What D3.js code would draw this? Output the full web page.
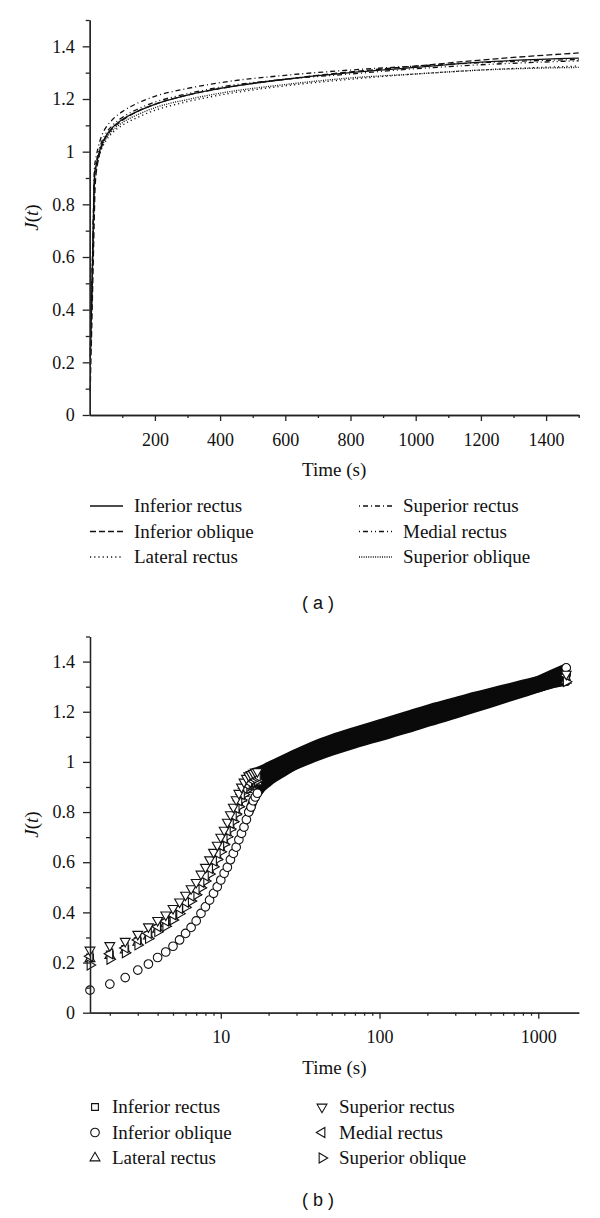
<!DOCTYPE html>
<html>
<head>
<meta charset="utf-8">
<script src="https://cdn.jsdelivr.net/npm/d3@7"></script>
<style>
  body { margin: 0; background: #fff; }
  svg text { font-family: "Liberation Serif", "Times New Roman", serif; fill: #111; }
  .axis path, .axis line { stroke: #222; stroke-width: 1.3; }
  .panel-tag { font-family: "Liberation Sans", Arial, sans-serif !important; }
</style>
</head>
<body>
<div id="chart"></div>
<script>
// muscle names, same order in both legends
const muscles = ["Inferior rectus", "Inferior oblique", "Lateral rectus",
                 "Superior rectus", "Medial rectus", "Superior oblique"];

// sample times (s)
const times = [1.5, 2, 2.5, 3, 3.5, 4, 4.5, 5, 5.5, 6, 6.5, 7, 7.5, 8, 8.5, 9, 9.5, 10,
               10.5, 11, 11.5, 12, 12.5, 13, 13.5, 14, 14.5, 15, 15.5, 16, 16.5, 17, 17.5, 18,
               20, 25, 30, 40, 50, 70, 100, 150, 200, 300, 400, 600, 800, 1000, 1200, 1500];

// creep compliance J(t)
const inferiorRectus = [.22, .232, .254, .285, .31, .337, .36, .385, .41, .435, .46, .485, .513, .54, .568, .597, .627, .657,
  .687, .717, .747, .777, .807, .837, .862, .885, .9, .912, .92, .925, .929, .932, .935, .937,
  .95, .978, 1.002, 1.037, 1.06, 1.092, 1.122, 1.155, 1.18, 1.215, 1.24, 1.275, 1.30, 1.32, 1.34, 1.355];
const inferiorOblique = [.09, .114, .14, .17, .194, .22, .242, .265, .29, .316, .34, .366, .396, .422, .449, .476, .502, .529,
  .556, .58, .61, .635, .66, .69, .715, .74, .77, .80, .82, .845, .86, .875, .885, .895,
  .92, .96, .99, 1.03, 1.055, 1.088, 1.118, 1.155, 1.18, 1.215, 1.24, 1.275, 1.303, 1.325, 1.348, 1.375];
const lateralRectus = [.215, .228, .25, .28, .305, .332, .355, .38, .405, .43, .455, .48, .508, .535, .563, .592, .62, .65,
  .68, .71, .74, .77, .80, .83, .855, .875, .89, .90, .908, .913, .917, .92, .923, .925,
  .938, .965, .988, 1.02, 1.042, 1.072, 1.10, 1.132, 1.157, 1.19, 1.215, 1.25, 1.275, 1.295, 1.31, 1.325];
const superiorRectus = [.25, .268, .285, .313, .343, .368, .39, .416, .442, .469, .495, .52, .553, .58, .61, .64, .668, .70,
  .728, .76, .79, .82, .85, .875, .90, .92, .935, .945, .95, .955, .96, .962, .965, .968,
  .982, 1.011, 1.035, 1.07, 1.092, 1.122, 1.152, 1.186, 1.21, 1.24, 1.262, 1.29, 1.31, 1.325, 1.338, 1.35];
const medialRectus = [.225, .235, .258, .29, .316, .343, .365, .39, .415, .44, .465, .49, .52, .545, .575, .605, .635, .665,
  .695, .725, .755, .785, .815, .845, .87, .895, .91, .92, .93, .935, .94, .943, .945, .947,
  .96, .988, 1.012, 1.047, 1.07, 1.10, 1.13, 1.163, 1.188, 1.22, 1.245, 1.275, 1.295, 1.315, 1.33, 1.345];
const superiorOblique = [.19, .213, .239, .27, .296, .323, .345, .37, .395, .42, .445, .47, .498, .525, .553, .582, .612, .642,
  .672, .702, .732, .762, .792, .822, .848, .87, .887, .90, .91, .916, .921, .925, .928, .93,
  .943, .97, .993, 1.027, 1.05, 1.08, 1.11, 1.142, 1.167, 1.198, 1.222, 1.255, 1.28, 1.295, 1.31, 1.32];

const seriesValues = [inferiorRectus, inferiorOblique, lateralRectus, superiorRectus, medialRectus, superiorOblique];

// ticks
const yTicks = [0, 0.2, 0.4, 0.6, 0.8, 1, 1.2, 1.4];
const yMinor = [0.1, 0.3, 0.5, 0.7, 0.9, 1.1, 1.3, 1.5];
const xTicksA = [200, 400, 600, 800, 1000, 1200, 1400];
const xMinorA = [100, 300, 500, 700, 900, 1100, 1300, 1500];
const xTicksB = [10, 100, 1000];
const xMinorB = [2, 3, 4, 5, 6, 7, 8, 9, 20, 30, 40, 50, 60, 70, 80, 90, 200, 300, 400, 500, 600, 700, 800, 900];

const dashes = [null, "6,3", "1.2,3", "1,3,5,3", "1,3,5,3,1,3", "1,1.3"];
const symbolTypes = [d3.symbolSquare, d3.symbolCircle, d3.symbolTriangle, d3.symbolTriangle, d3.symbolTriangle, d3.symbolTriangle];
const symbolRotation = [0, 0, 0, 180, -90, 90];
const symbolSizes = [46, 58, 42, 42, 42, 42];

const series = muscles.map((name, i) => ({
  name: name, i: i,
  points: times.map((t, j) => ({ t: t, v: seriesValues[i][j] }))
}));

const W = 600, H = 1218;
const svg = d3.select("#chart").append("svg")
  .attr("width", W).attr("height", H);

function drawAxes(x, y, xTicks, xMinor, fmt) {
  const g = svg.append("g");
  const x0 = y.range()[0];
  const left = x.range()[0];

  g.append("g").attr("class", "axis").attr("transform", `translate(0,${x0})`)
    .call(d3.axisBottom(x).tickValues(xMinor).tickSize(3).tickSizeOuter(0).tickFormat(""));
  g.append("g").attr("class", "axis").attr("transform", `translate(0,${x0})`)
    .call(d3.axisBottom(x).tickValues(xTicks).tickSize(6).tickSizeOuter(0).tickPadding(12).tickFormat(fmt))
    .call(a => a.selectAll("text").style("font-size", "18px"));

  g.append("g").attr("class", "axis").attr("transform", `translate(${left},0)`)
    .call(d3.axisLeft(y).tickValues(yMinor).tickSize(4).tickSizeOuter(0).tickFormat(""));
  g.append("g").attr("class", "axis").attr("transform", `translate(${left},0)`)
    .call(d3.axisLeft(y).tickValues(yTicks).tickSize(7).tickSizeOuter(0).tickPadding(8).tickFormat(d3.format("~g")))
    .call(a => a.selectAll("text").style("font-size", "18px"));

  const midX = (x.range()[0] + x.range()[1]) / 2;
  g.append("text").attr("x", midX).attr("y", x0 + 61)
    .attr("text-anchor", "middle").style("font-size", "19px").text("Time (s)");

  const midY = (y.range()[0] + y.range()[1]) / 2;
  const yl = g.append("text").attr("transform", `translate(38,${midY}) rotate(-90)`)
    .attr("text-anchor", "middle").style("font-size", "19px");
  yl.append("tspan").style("font-style", "italic").text("J");
  yl.append("tspan").text("(");
  yl.append("tspan").style("font-style", "italic").text("t");
  yl.append("tspan").text(")");
}

function symbolPath(i) {
  return d3.symbol().type(symbolTypes[i]).size(symbolSizes[i])();
}

// ---------- panel (a): linear time, lines ----------
const xA = d3.scaleLinear().domain([0, 1500]).range([89.7, 578.7]);
const yA = d3.scaleLinear().domain([0, 1.5]).range([415, 20]);

const lineA = d3.line().x(d => xA(d.t)).y(d => yA(d.v)).curve(d3.curveMonotoneX);

svg.append("g").selectAll("path")
  .data(series)
  .join("path")
  .attr("d", d => lineA(d.points))
  .attr("fill", "none")
  .attr("stroke", "#111")
  .attr("stroke-width", 1.3)
  .attr("stroke-dasharray", d => dashes[d.i]);

drawAxes(xA, yA, xTicksA, xMinorA, d3.format("d"));

// legend (a)
const legA = svg.append("g");
series.forEach((s, i) => {
  const col = Math.floor(i / 3), row = i % 3;
  const lx = col === 0 ? 90 : 359;
  const ly = 506 + row * 25.5;
  legA.append("line")
    .attr("x1", lx).attr("x2", lx + 33).attr("y1", ly).attr("y2", ly)
    .attr("stroke", "#111").attr("stroke-width", 1.3)
    .attr("stroke-dasharray", dashes[i]);
  legA.append("text").attr("x", lx + 44).attr("y", ly + 6)
    .style("font-size", "19px").text(s.name);
});

svg.append("text").attr("class", "panel-tag").attr("x", 318).attr("y", 609)
  .attr("text-anchor", "middle").style("font-size", "18px").text("( a )");

// ---------- panel (b): log time, markers ----------
const xB = d3.scaleLog().domain([1.5, 1800]).range([90, 578.8]);
const yB = d3.scaleLinear().domain([0, 1.5]).range([1012.7, 636.5]);

// dense overlapping markers form a solid band after the knee
const lineB = d3.line().x(d => xB(d.t)).y(d => yB(d.v)).curve(d3.curveMonotoneX);
svg.append("g").selectAll("path")
  .data(series)
  .join("path")
  .attr("d", d => lineB(d.points.filter(p => p.t >= 15)))
  .attr("fill", "none")
  .attr("stroke", "#0a0a0a")
  .attr("stroke-width", 9)
  .attr("stroke-linecap", "round");

const drawOrder = [0, 2, 5, 1, 4, 3];
const markG = svg.append("g");
drawOrder.forEach(i => {
  const pts = series[i].points.filter((p, j) => p.t <= 17 || j === times.length - 1);
  markG.append("g").selectAll("path")
    .data(pts)
    .join("path")
    .attr("d", symbolPath(i))
    .attr("transform", d => `translate(${xB(d.t)},${yB(d.v)}) rotate(${symbolRotation[i]})`)
    .attr("fill", "#fff")
    .attr("stroke", "#111")
    .attr("stroke-width", 1.1);
});

drawAxes(xB, yB, xTicksB, xMinorB, d3.format("d"));

// legend (b)
const legB = svg.append("g");
series.forEach((s, i) => {
  const col = Math.floor(i / 3), row = i % 3;
  const mx = col === 0 ? 95 : 322;
  const ly = 1107 + row * 25.5;
  legB.append("path")
    .attr("d", symbolPath(i))
    .attr("transform", `translate(${mx},${ly}) rotate(${symbolRotation[i]})`)
    .attr("fill", "#fff").attr("stroke", "#111").attr("stroke-width", 1.1);
  legB.append("text").attr("x", mx + 17).attr("y", ly + 6)
    .style("font-size", "19px").text(s.name);
});

svg.append("text").attr("class", "panel-tag").attr("x", 318).attr("y", 1206)
  .attr("text-anchor", "middle").style("font-size", "18px").text("( b )");
</script>
</body>
</html>
